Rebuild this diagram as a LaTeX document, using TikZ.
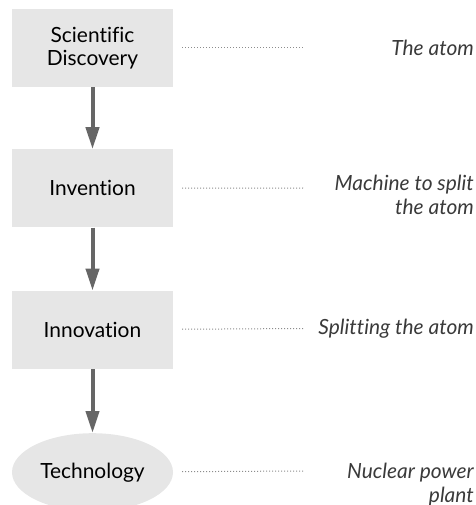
\documentclass[tikz,border=0pt]{standalone}
\usepackage{fontspec}
\setmainfont{Lato}[Ligatures=NoCommon]
\usetikzlibrary{positioning,shapes.geometric,arrows.meta}
\definecolor{StageClr}{HTML}{E6E6E6}
\definecolor{FlowClr}{HTML}{666666}
\definecolor{LinkClr}{HTML}{8C8C8C}
\definecolor{NoteClr}{HTML}{3A3A3A}

\begin{document}
\begin{tikzpicture}[x=1bp,y=-1bp,
  stage/.style={fill=StageClr,minimum width=161bp,minimum height=78bp,inner sep=0pt,
    align=center,font=\fontsize{21}{23}\selectfont},
  final/.style={stage,ellipse},
  flow/.style={FlowClr,line width=4bp,-{Triangle[width=13bp,length=22bp]}},
  link/.style={LinkClr,line width=1bp,dash pattern=on 1bp off 2bp,shorten <=9bp},
  note/.style={inner sep=0pt,align=right,text=NoteClr,font=\fontsize{21}{24}\selectfont\itshape}]
\useasboundingbox (0,0) rectangle (476,505);

% the four stages
\node[stage] (sci) at (92.5,48) {Scientific\\Discovery};
\node[stage,below=62bp of sci] (inv) {Invention};
\node[stage,below=63bp of inv] (inn) {Innovation};
\node[final,below=64bp of inn] (tech) {Technology};

\draw[flow] (sci) -- (inv);
\draw[flow] (inv) -- (inn);
\draw[flow] (inn) -- (tech);

% examples
\node[note,anchor=east] (ex1) at (474,48) {The atom};
\node[note,anchor=north east] (ex2) at (474,175) {Machine to split\\the atom};
\node[note,anchor=east] (ex3) at (474,328.5) {Splitting the atom};
\node[note,anchor=north east] (ex4) at (474,463) {Nuclear power\\plant};

\coordinate (d1) at (303,48);
\coordinate (d2) at (303,188);
\coordinate (d3) at (303,328.5);
\coordinate (d4) at (303,471);
\draw[link] (sci) -- (d1);
\draw[link] (inv) -- (d2);
\draw[link] (inn) -- (d3);
\draw[link] (tech) -- (d4);
\end{tikzpicture}
\end{document}
